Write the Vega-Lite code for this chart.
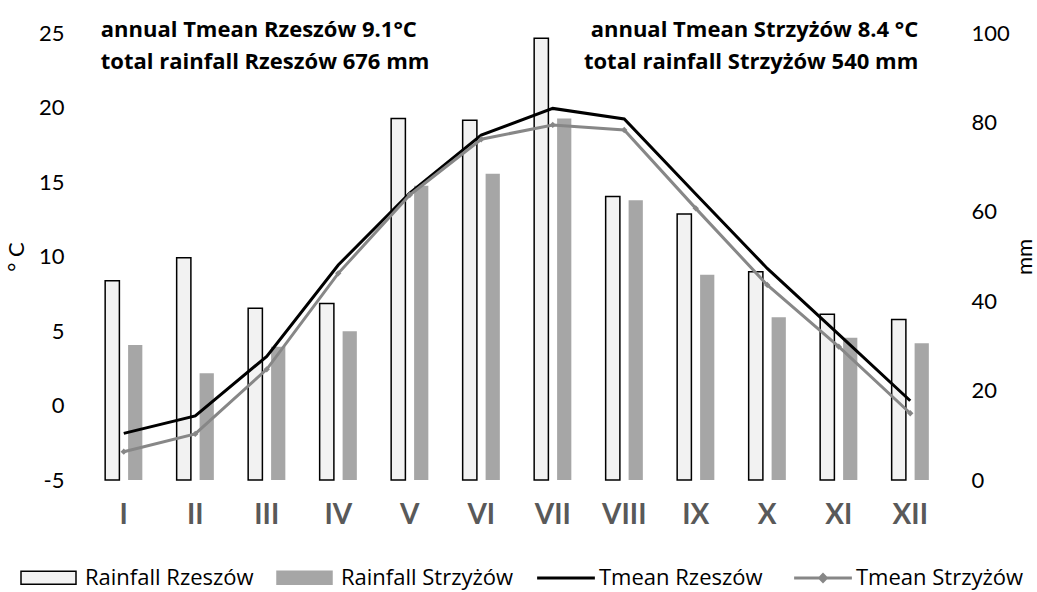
{
  "$schema": "https://vega.github.io/schema/vega-lite/v6.json",
  "width": 858,
  "height": 447,
  "autosize": {"type": "none"},
  "padding": {"left": 88, "top": 33, "right": 91, "bottom": 112},
  "background": "white",
  "config": {
    "view": {"stroke": null},
    "font": "Lato",
    "axis": {"grid": false, "domain": false, "ticks": false}
  },
  "datasets": {
    "rain": [
      {"month": "I", "series": "Rainfall Rzeszów", "mm": 44.6},
      {"month": "II", "series": "Rainfall Rzeszów", "mm": 49.7},
      {"month": "III", "series": "Rainfall Rzeszów", "mm": 38.4},
      {"month": "IV", "series": "Rainfall Rzeszów", "mm": 39.5},
      {"month": "V", "series": "Rainfall Rzeszów", "mm": 80.9},
      {"month": "VI", "series": "Rainfall Rzeszów", "mm": 80.5},
      {"month": "VII", "series": "Rainfall Rzeszów", "mm": 98.8},
      {"month": "VIII", "series": "Rainfall Rzeszów", "mm": 63.4},
      {"month": "IX", "series": "Rainfall Rzeszów", "mm": 59.5},
      {"month": "X", "series": "Rainfall Rzeszów", "mm": 46.6},
      {"month": "XI", "series": "Rainfall Rzeszów", "mm": 37.1},
      {"month": "XII", "series": "Rainfall Rzeszów", "mm": 35.9},
      {"month": "I", "series": "Rainfall Strzyżów", "mm": 30.2},
      {"month": "II", "series": "Rainfall Strzyżów", "mm": 23.9},
      {"month": "III", "series": "Rainfall Strzyżów", "mm": 29.8},
      {"month": "IV", "series": "Rainfall Strzyżów", "mm": 33.3},
      {"month": "V", "series": "Rainfall Strzyżów", "mm": 65.8},
      {"month": "VI", "series": "Rainfall Strzyżów", "mm": 68.5},
      {"month": "VII", "series": "Rainfall Strzyżów", "mm": 80.9},
      {"month": "VIII", "series": "Rainfall Strzyżów", "mm": 62.6},
      {"month": "IX", "series": "Rainfall Strzyżów", "mm": 45.9},
      {"month": "X", "series": "Rainfall Strzyżów", "mm": 36.4},
      {"month": "XI", "series": "Rainfall Strzyżów", "mm": 31.8},
      {"month": "XII", "series": "Rainfall Strzyżów", "mm": 30.6}
    ],
    "temp": [
      {"month": "I", "series": "Tmean Rzeszów", "temp": -1.87},
      {"month": "II", "series": "Tmean Rzeszów", "temp": -0.7},
      {"month": "III", "series": "Tmean Rzeszów", "temp": 3.3},
      {"month": "IV", "series": "Tmean Rzeszów", "temp": 9.43},
      {"month": "V", "series": "Tmean Rzeszów", "temp": 14.26},
      {"month": "VI", "series": "Tmean Rzeszów", "temp": 18.15},
      {"month": "VII", "series": "Tmean Rzeszów", "temp": 19.94},
      {"month": "VIII", "series": "Tmean Rzeszów", "temp": 19.23},
      {"month": "IX", "series": "Tmean Rzeszów", "temp": 14.2},
      {"month": "X", "series": "Tmean Rzeszów", "temp": 9.2},
      {"month": "XI", "series": "Tmean Rzeszów", "temp": 4.77},
      {"month": "XII", "series": "Tmean Rzeszów", "temp": 0.32},
      {"month": "I", "series": "Tmean Strzyżów", "temp": -3.1},
      {"month": "II", "series": "Tmean Strzyżów", "temp": -1.91},
      {"month": "III", "series": "Tmean Strzyżów", "temp": 2.43},
      {"month": "IV", "series": "Tmean Strzyżów", "temp": 8.87},
      {"month": "V", "series": "Tmean Strzyżów", "temp": 14.13},
      {"month": "VI", "series": "Tmean Strzyżów", "temp": 17.87},
      {"month": "VII", "series": "Tmean Strzyżów", "temp": 18.83},
      {"month": "VIII", "series": "Tmean Strzyżów", "temp": 18.49},
      {"month": "IX", "series": "Tmean Strzyżów", "temp": 13.23},
      {"month": "X", "series": "Tmean Strzyżów", "temp": 8.09},
      {"month": "XI", "series": "Tmean Strzyżów", "temp": 3.95},
      {"month": "XII", "series": "Tmean Strzyżów", "temp": -0.52}
    ],
    "notesLeft": [
      {"month": "I", "temp": 25.2, "label": "annual Tmean Rzeszów 9.1°C"},
      {"month": "I", "temp": 23.05, "label": "total rainfall Rzeszów 676 mm"}
    ],
    "notesRight": [
      {"month": "XII", "temp": 25.2, "label": "annual Tmean Strzyżów 8.4 °C"},
      {"month": "XII", "temp": 23.05, "label": "total rainfall Strzyżów 540 mm"}
    ]
  },
  "layer": [
    {
      "data": {"name": "rain"},
      "mark": {"type": "bar"},
      "encoding": {
        "x": {
          "field": "month",
          "type": "nominal",
          "sort": ["I", "II", "III", "IV", "V", "VI", "VII", "VIII", "IX", "X", "XI", "XII"],
          "scale": {"paddingInner": 0.48, "paddingOuter": 0.24},
          "axis": {
            "title": null,
            "labelAngle": 0,
            "labelFont": "Lato",
            "labelFontSize": 28,
            "labelFontWeight": "bold",
            "labelColor": "#595959",
            "labelPadding": 21
          }
        },
        "xOffset": {
          "field": "series",
          "type": "nominal",
          "scale": {"paddingInner": 0.38, "paddingOuter": 0}
        },
        "y": {
          "field": "mm",
          "type": "quantitative",
          "scale": {"domain": [0, 100], "nice": false},
          "axis": {
            "orient": "right",
            "values": [0, 20, 40, 60, 80, 100],
            "title": "mm",
            "titleAngle": -90,
            "titleFont": "Lato",
            "titleFontSize": 22,
            "titleFontWeight": "normal",
            "titleColor": "#000",
            "titlePadding": 27,
            "labelFontSize": 22,
            "labelColor": "#000",
            "labelPadding": 25
          }
        },
        "fill": {
          "field": "series",
          "type": "nominal",
          "scale": {
            "domain": ["Rainfall Rzeszów", "Rainfall Strzyżów"],
            "range": ["#f2f2f2", "#a6a6a6"]
          },
          "legend": {
            "title": null,
            "orient": "none",
            "legendX": -68,
            "legendY": 516,
            "direction": "horizontal",
            "columns": 2,
            "columnPadding": 20,
            "symbolSize": 3025,
            "symbolType": "M-1,-0.24H1V0.24H-1Z",
            "symbolStrokeColor": {"expr": "datum.value === 'Rainfall Rzeszów' ? '#000000' : '#a6a6a6'"},
            "symbolStrokeWidth": 1.5,
            "symbolOpacity": 1,
            "labelFont": "Open Sans",
            "labelFontSize": 22,
            "labelColor": "#000",
            "labelOffset": 8,
            "labelLimit": 400
          }
        },
        "stroke": {
          "condition": {"test": "datum.series === 'Rainfall Rzeszów'", "value": "#000000"},
          "value": "transparent"
        },
        "strokeWidth": {
          "condition": {"test": "datum.series === 'Rainfall Rzeszów'", "value": 1.5},
          "value": 0
        }
      }
    },
    {
      "layer": [
        {
          "data": {"name": "temp"},
          "mark": {"type": "line", "strokeWidth": 3},
          "encoding": {
            "x": {
              "field": "month",
              "type": "nominal",
              "sort": ["I", "II", "III", "IV", "V", "VI", "VII", "VIII", "IX", "X", "XI", "XII"]
            },
            "y": {
              "field": "temp",
              "type": "quantitative",
              "scale": {"domain": [-5, 25], "nice": false},
              "axis": {
                "orient": "left",
                "values": [-5, 0, 5, 10, 15, 20, 25],
                "title": "° C",
                "titleAngle": -90,
                "titleFont": "Lato",
                "titleFontSize": 22,
                "titleFontWeight": "normal",
                "titleColor": "#000",
                "titlePadding": 10,
                "labelFontSize": 22,
                "labelColor": "#000",
                "labelPadding": 24,
                "labelExpr": "datum.value + ''"
              }
            },
            "stroke": {
              "field": "series",
              "type": "nominal",
              "scale": {
                "domain": ["Tmean Rzeszów", "Tmean Strzyżów"],
                "range": ["#000000", "#878787"]
              },
              "legend": {
                "title": null,
                "orient": "none",
                "legendX": 449,
                "legendY": 516,
                "direction": "horizontal",
                "columns": 2,
                "columnPadding": 25,
                "symbolSize": 3025,
                "symbolType": {"expr": "datum.value === 'Tmean Rzeszów' ? 'M-1.05,0H1.05' : 'M-1.05,0H1.05M-0.12,0L0,-0.12L0.12,0L0,0.12Z'"},
                "symbolFillColor": {"expr": "datum.value === 'Tmean Strzyżów' ? '#878787' : 'transparent'"},
                "symbolStrokeWidth": 3,
                "symbolOpacity": 1,
                "labelFont": "Open Sans",
                "labelFontSize": 22,
                "labelColor": "#000",
                "labelOffset": 4,
                "labelLimit": 400
              }
            }
          }
        },
        {
          "data": {"name": "temp"},
          "transform": [{"filter": "datum.series === 'Tmean Strzyżów'"}],
          "mark": {"type": "point", "shape": "diamond", "filled": true, "size": 40, "color": "#878787", "opacity": 1},
          "encoding": {
            "x": {
              "field": "month",
              "type": "nominal",
              "sort": ["I", "II", "III", "IV", "V", "VI", "VII", "VIII", "IX", "X", "XI", "XII"]
            },
            "y": {"field": "temp", "type": "quantitative"}
          }
        },
        {
          "data": {"name": "notesLeft"},
          "mark": {"type": "text", "align": "left", "baseline": "middle", "dx": -23, "font": "Open Sans", "fontSize": 22, "fontWeight": "bold", "color": "#000"},
          "encoding": {
            "x": {
              "field": "month",
              "type": "nominal",
              "sort": ["I", "II", "III", "IV", "V", "VI", "VII", "VIII", "IX", "X", "XI", "XII"]
            },
            "y": {"field": "temp", "type": "quantitative"},
            "text": {"field": "label"}
          }
        },
        {
          "data": {"name": "notesRight"},
          "mark": {"type": "text", "align": "right", "baseline": "middle", "dx": 8, "font": "Open Sans", "fontSize": 22, "fontWeight": "bold", "color": "#000"},
          "encoding": {
            "x": {
              "field": "month",
              "type": "nominal",
              "sort": ["I", "II", "III", "IV", "V", "VI", "VII", "VIII", "IX", "X", "XI", "XII"]
            },
            "y": {"field": "temp", "type": "quantitative"},
            "text": {"field": "label"}
          }
        }
      ]
    }
  ],
  "resolve": {"scale": {"y": "independent"}}
}
